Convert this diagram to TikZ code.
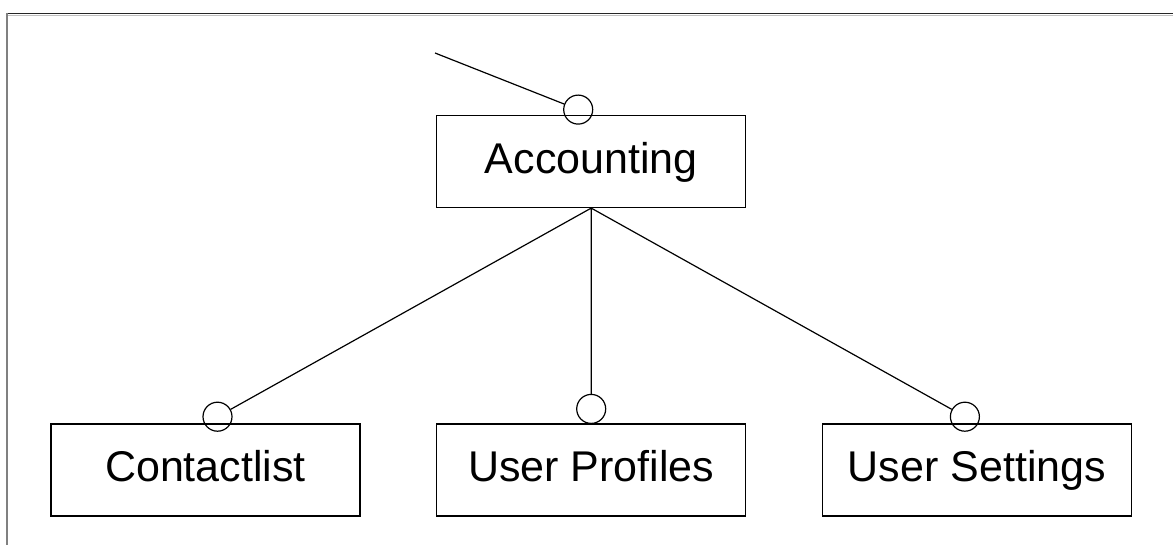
\documentclass[tikz,border=0pt]{standalone}
\usepackage{fontspec}
\setmainfont{Liberation Sans}
\usepackage{tikz}

\begin{document}
\begin{tikzpicture}[auto, x=1pt, y=1pt, line width=1.2pt,
                    comp node/.style={rectangle,draw,minimum width=309pt,minimum height=92pt,
                                      inner sep=0pt,text height=31pt,text depth=7.4pt,
                                      font=\fontsize{43}{50}\selectfont},
                    port/.style={circle,draw,minimum size=29pt,inner sep=0pt}]

  \useasboundingbox (0,0) rectangle (1173,-545);

  % window edge
  \draw[line width=1.6pt, black!85] (6,-13.5) -- (1173,-13.5);
  \draw[line width=1pt, black!25] (8,-15.2) -- (1173,-15.2);
  \draw[line width=2pt, black!50] (7,-13) -- (7,-545);

  \node[comp node] (acc) at (591.2,-161.5) {Accounting};
  \node[comp node] (prof) [below of=acc, node distance=308.5pt] {User Profiles};
  \node[comp node] (contacts) [left of=prof, node distance=385.7pt] {Contactlist};
  \node[comp node] (settings) [right of=prof, node distance=385.7pt] {User Settings};

  \node[port] (pacc) at ([xshift=-13pt,yshift=5.3pt]acc.north) {};
  \node[port] (pcontacts) at ([xshift=12pt,yshift=6.7pt]contacts.north) {};
  \node[port] (pprof) at ([yshift=14.5pt]prof.north) {};
  \node[port] (psettings) at ([xshift=-12pt,yshift=6.7pt]settings.north) {};

  \coordinate (in) at (435,-53);

  \path[draw]
       (in) -- (pacc)
       (acc.south) -- (pcontacts)
       (acc.south) -- (pprof)
       (acc.south) -- (psettings);

\end{tikzpicture}
\end{document}
